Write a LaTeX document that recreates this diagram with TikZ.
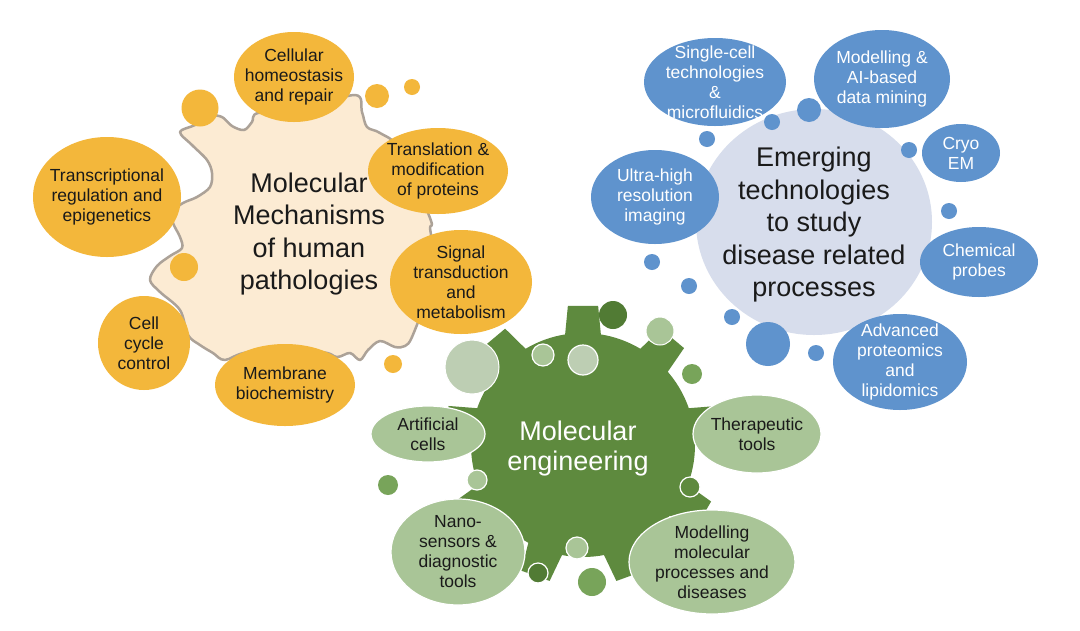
\documentclass[tikz,border=0pt]{standalone}
\usepackage{fontspec}
\setmainfont{Liberation Sans}
\usetikzlibrary{shapes.geometric}
\definecolor{orangeC}{HTML}{F3B73B}
\definecolor{creamC}{HTML}{FCEBD3}
\definecolor{blobC}{HTML}{ACA298}
\definecolor{blueC}{HTML}{5F93CD}
\definecolor{bigblue}{HTML}{D7DDEC}
\definecolor{gearC}{HTML}{5E8A3E}
\definecolor{lgreen}{HTML}{A9C597}
\definecolor{pgreen}{HTML}{BDCEB3}
\definecolor{mgreen}{HTML}{78A45A}
\definecolor{dgreen}{HTML}{517B34}
\definecolor{txtC}{HTML}{1A1A1A}
\tikzset{
  oell/.style={ellipse, fill=orangeC, inner sep=0},
  bell/.style={ellipse, fill=blueC, inner sep=0},
  gell/.style={ellipse, fill=lgreen, draw=white, line width=1.2pt, inner sep=0},
  bub/.style={circle, inner sep=0, minimum size=#1},
  smalltxt/.style={align=center, font=\fontsize{17.5}{20}\selectfont, inner sep=0, text=txtC},
  wsmalltxt/.style={smalltxt, text=white},
  bigtxt/.style={align=center, font=\fontsize{27}{32.5}\selectfont, inner sep=0, text=txtC},
}
\begin{document}
\begin{tikzpicture}[x=1pt,y=-1pt]
\fill[white] (0,0) rectangle (1080,630);
\useasboundingbox (0,0) rectangle (1080,630);

% ---------------- left group ----------------
\draw[blobC, line width=2.5pt, fill=creamC, line join=round]
  plot[smooth cycle, tension=0.55] coordinates {
  (180,132) (192,145) (207,160) (212,173) (210,187) (197,197) (183,203)
  (172,212) (173,223) (180,237) (182,248) (170,256) (157,266) (150,280)
  (160,292) (180,310) (188,335) (200,345) (213,353) (225,360) (250,352)
  (320,352) (337,357) (350,353) (360,360) (368,350) (380,341) (395,347)
  (405,346) (412,337) (425,300) (432,250) (430,228) (430,218) (400,150)
  (380,133) (367,127) (362,112) (355,95) (300,110) (258,113) (252,122)
  (244,130) (232,126) (222,117) (210,116) (195,125)};

\node[bub=37pt, fill=orangeC] (o1) at (200,108) {};
\node[bub=24pt, fill=orangeC] (o2) at (377,96) {};
\node[bub=16pt, fill=orangeC] (o3) at (412,87) {};
\node[bub=28pt, fill=orangeC] (o4) at (184,267) {};
\node[bub=18pt, fill=orangeC] (o5) at (393,364) {};

\node[oell, minimum width=120, minimum height=90] (cell) at (294,77) {};
\node[smalltxt] (cellt) at (cell) {Cellular\\homeostasis\\and repair};
\node[oell, minimum width=140, minimum height=86] (trl) at (438,171) {};
\node[smalltxt] (trlt) at (trl) {Translation \&\\modification\\of proteins};
\node[oell, minimum width=148, minimum height=120] (trs) at (107,197) {};
\node[smalltxt] (trst) at (trs) {Transcriptional\\regulation and\\epigenetics};
\node[oell, minimum width=142, minimum height=104] (sig) at (461,282) {};
\node[smalltxt] (sigt) at (sig) {Signal\\transduction\\and\\metabolism};
\node[oell, minimum width=92, minimum height=94] (cyc) at (144,343) {};
\node[smalltxt] (cyct) at (cyc) {Cell\\cycle\\control};
\node[oell, minimum width=140, minimum height=82] (mem) at (285,385) {};
\node[smalltxt] (memt) at (mem) {Membrane\\biochemistry};

\node[bigtxt] (mmh) at (309,234) {Molecular\\Mechanisms\\of human\\pathologies};

% ---------------- right group ----------------
\node[ellipse, fill=bigblue, inner sep=0, minimum width=236, minimum height=226] (emc) at (814,222) {};

\node[bub=24pt, fill=blueC] (b1) at (809,110) {};
\node[bub=16pt, fill=blueC] (b2) at (772,122) {};
\node[bub=16pt, fill=blueC] (b3) at (707,139) {};
\node[bub=16pt, fill=blueC] (b4) at (909,150) {};
\node[bub=16pt, fill=blueC] (b5) at (949,211) {};
\node[bub=16pt, fill=blueC] (b6) at (652,262) {};
\node[bub=16pt, fill=blueC] (b7) at (689,286) {};
\node[bub=16pt, fill=blueC] (b8) at (732,317) {};
\node[bub=44pt, fill=blueC] (b9) at (768,344) {};
\node[bub=16pt, fill=blueC] (b10) at (816,353) {};

\node[bell, minimum width=142, minimum height=88] (sc) at (715,82) {};
\node[wsmalltxt] (sct) at (sc) {Single-cell\\technologies\\\&\\microfluidics};
\node[bell, minimum width=136, minimum height=98] (ai) at (882,79) {};
\node[wsmalltxt] (ait) at (ai) {Modelling \&\\AI-based\\data mining};
\node[bell, minimum width=78, minimum height=58] (cryo) at (961,153) {};
\node[wsmalltxt] (cryot) at (cryo) {Cryo\\EM};
\node[bell, minimum width=128, minimum height=94] (uhr) at (655,197) {};
\node[wsmalltxt] (uhrt) at (uhr) {Ultra-high\\resolution\\imaging};
\node[bell, minimum width=118, minimum height=70] (chem) at (979,262) {};
\node[wsmalltxt] (chemt) at (chem) {Chemical\\probes};
\node[bell, minimum width=134, minimum height=96] (adv) at (900,362) {};
\node[wsmalltxt] (advt) at (adv) {Advanced\\proteomics\\and\\lipidomics};

\node[bigtxt] (emt) at (814,225) {Emerging\\technologies\\to study\\disease related\\processes};

% ---------------- bottom group ----------------
\begin{scope}[shift={(583,445)}]
  \fill[gearC] (0,0) circle[radius=112];
  \foreach \k in {0,...,8} {
    \fill[gearC] (-90+40*\k-11:100) -- (-90+40*\k-6.2:140)
      -- (-90+40*\k+6.2:140) -- (-90+40*\k+11:100) -- cycle;
  }
\end{scope}

\node[bub=54pt, fill=pgreen, draw=white, line width=1pt] (g1) at (472,367) {};
\node[bub=22pt, fill=lgreen, draw=white, line width=1.2pt] (g2) at (543,355) {};
\node[bub=30pt, fill=pgreen, draw=white, line width=1.2pt] (g3) at (583,360) {};
\node[bub=28pt, fill=dgreen] (g4) at (613,315) {};
\node[bub=28pt, fill=lgreen, draw=white, line width=1pt] (g5) at (660,331) {};
\node[bub=20pt, fill=mgreen] (g6) at (692,374) {};
\node[bub=20pt, fill=mgreen] (g7) at (388,485) {};
\node[bub=20pt, fill=lgreen, draw=white, line width=1.2pt] (g8) at (477,480) {};
\node[bub=20pt, fill=gearC, draw=white, line width=1.2pt] (g9) at (690,487) {};
\node[bub=22pt, fill=lgreen, draw=white, line width=1.2pt] (g10) at (577,548) {};
\node[bub=20pt, fill=dgreen, draw=white, line width=1.2pt] (g11) at (538,573) {};
\node[bub=28pt, fill=mgreen] (g12) at (592,582) {};

\node[gell, minimum width=114, minimum height=56] (art) at (428,434) {};
\node[smalltxt] (artt) at (art) {Artificial\\cells};
\node[gell, minimum width=128, minimum height=78] (ther) at (757,434) {};
\node[smalltxt] (thert) at (ther) {Therapeutic\\tools};
\node[gell, minimum width=134, minimum height=106] (nano) at (458,552) {};
\node[smalltxt] (nanot) at (nano) {Nano-\\sensors \&\\diagnostic\\tools};
\node[gell, minimum width=166, minimum height=104] (mod) at (712,562) {};
\node[smalltxt] (modt) at (mod) {Modelling\\molecular\\processes and\\diseases};

\node[bigtxt, text=white, font=\fontsize{27}{30}\selectfont] (met) at (578,449) {Molecular\\engineering};
\end{tikzpicture}
\end{document}
